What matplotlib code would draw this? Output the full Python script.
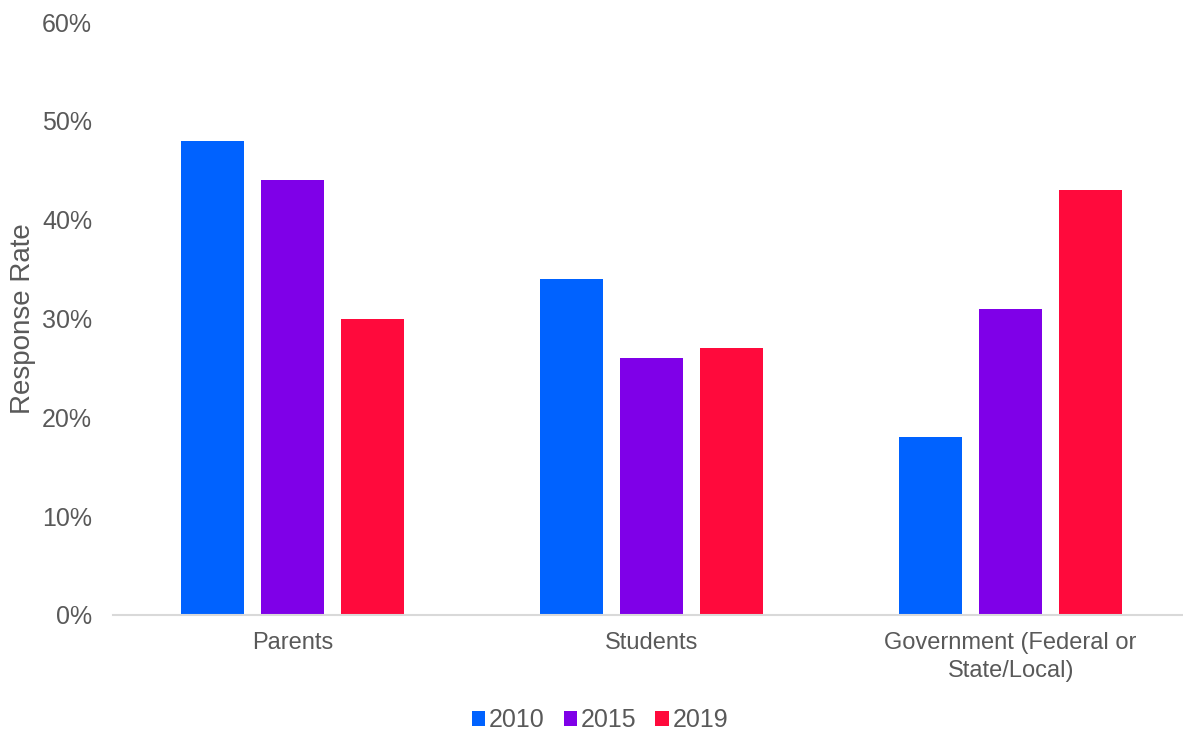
import numpy as np
import matplotlib
matplotlib.use("Agg")
import matplotlib.pyplot as plt
from matplotlib.ticker import FuncFormatter

plt.rcParams['font.family'] = ['Liberation Sans', 'DejaVu Sans']

# data
categories = ["Parents", "Students", "Government (Federal or\nState/Local)"]
years = ["2010", "2015", "2019"]
rate_2010 = [48, 34, 18]
rate_2015 = [44, 26, 31]
rate_2019 = [30, 27, 43]
colors = ["#0062FF", "#7F00E8", "#FF0A3C"]

grey = "#595959"

fig = plt.figure(figsize=(11.83, 7.36), dpi=100)
ax = fig.add_axes([113 / 1183, 121 / 736, 1070 / 1183, 593 / 736])

x = np.arange(len(categories))
width = 0.175
offset = 0.223
for i, (vals, yr) in enumerate(zip([rate_2010, rate_2015, rate_2019], years)):
    ax.bar(x + (i - 1) * offset, vals, width, color=colors[i], label=yr, zorder=2)

ax.set_xlim(-0.5, 2.48)
ax.set_ylim(0, 60)
ax.set_yticks(range(0, 61, 10))
ax.yaxis.set_major_formatter(FuncFormatter(lambda v, p: "{:d}%".format(int(v))))
ax.set_xticks(x)
ax.set_xticklabels(categories, linespacing=1.4)

for s in ["top", "right", "left"]:
    ax.spines[s].set_visible(False)
ax.spines["bottom"].set_color("#D9D9D9")
ax.spines["bottom"].set_linewidth(1.5)

ax.tick_params(axis="y", length=0, pad=15, labelsize=18, labelcolor=grey)
ax.tick_params(axis="x", length=0, pad=12, labelsize=17, labelcolor=grey)
ax.set_ylabel("Response Rate", fontsize=20, color=grey, labelpad=4)

leg = fig.legend(loc="center", bbox_to_anchor=(600 / 1183, 1 - 720 / 736), ncol=3, frameon=False,
                 fontsize=18, handlelength=0.55, handleheight=0.55, handletextpad=0.15,
                 columnspacing=0.75, borderaxespad=0)
for t in leg.get_texts():
    t.set_color(grey)

fig.savefig("out.png", dpi=100)
